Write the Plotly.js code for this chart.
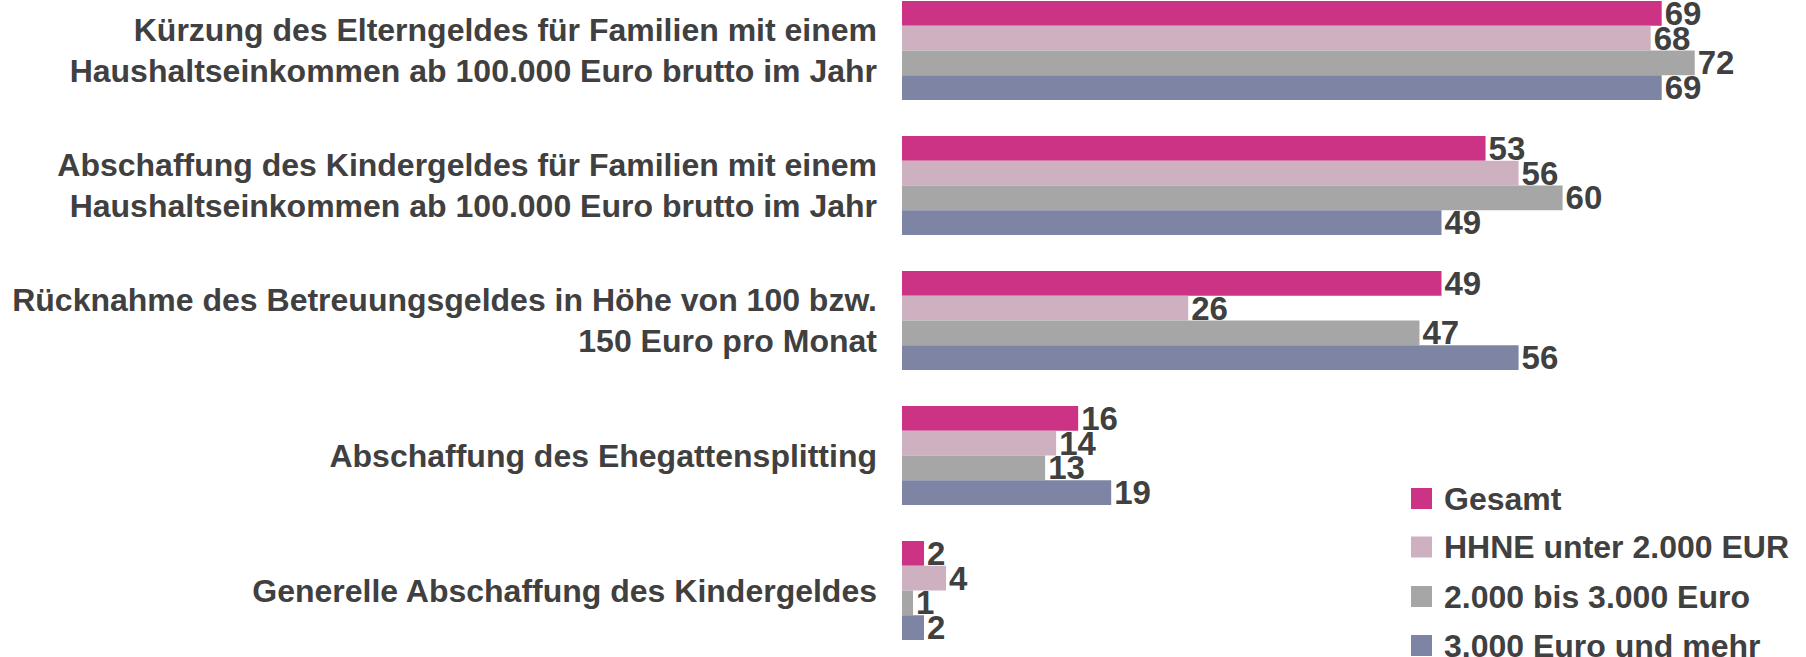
<!DOCTYPE html>
<html>
<head>
<meta charset="utf-8">
<script src="https://cdn.plot.ly/plotly-3.0.1.min.js"></script>
<style>
  html, body { margin: 0; padding: 0; background: #ffffff; }
  #chart { width: 1806px; height: 657px; }
</style>
</head>
<body>
<div id="chart"></div>
<script>
// ---- data ----
const categories = [
  "Kürzung des Elterngeldes für Familien mit einem<br>Haushaltseinkommen ab 100.000 Euro brutto im Jahr",
  "Abschaffung des Kindergeldes für Familien mit einem<br>Haushaltseinkommen ab 100.000 Euro brutto im Jahr",
  "Rücknahme des Betreuungsgeldes in Höhe von 100 bzw.<br>150 Euro pro Monat",
  "Abschaffung des Ehegattensplitting",
  "Generelle Abschaffung des Kindergeldes"
];
const seriesNames = ["Gesamt", "HHNE unter 2.000 EUR", "2.000 bis 3.000 Euro", "3.000 Euro und mehr"];
const gesamt    = [69, 53, 49, 16, 2];
const unter2000 = [68, 56, 26, 14, 4];
const bis3000   = [72, 60, 47, 13, 1];
const ab3000    = [69, 49, 56, 19, 2];
const seriesValues = [gesamt, unter2000, bis3000, ab3000];

// ---- style ----
const colors = ["#CC3385", "#CEB1C1", "#A6A6A6", "#7E84A3"];
const textColor = "#404040";
const FONT = "Liberation Sans, Arial, Helvetica, sans-serif";

const W = 1806, H = 657;
const L = 902, R = 0, T = 0, B = 0;
const plotW = W - L - R, plotH = H - T - B;

const traces = seriesValues.map((vals, i) => ({
  type: "bar",
  orientation: "h",
  name: seriesNames[i],
  y: categories,
  x: vals,
  marker: { color: colors[i], line: { width: 0 } },
  texttemplate: "%{x}",
  textposition: "outside",
  constraintext: "none",
  cliponaxis: false,
  textfont: { family: FONT, size: 33, color: textColor, weight: "bold" },
  hoverinfo: "skip",
  showlegend: false
}));

// manual legend (large square swatches like the reference)
const legendCentersPx = [498.5, 547, 596.5, 645.5];
const swatch = 21;
const swatchLeftPx = 1411;
const textLeftPx = 1442;
const pxX = p => (p - L) / plotW;
const pxY = p => 1 - (p - T) / plotH;

const shapes = seriesNames.map((n, i) => ({
  type: "rect", xref: "paper", yref: "paper",
  x0: pxX(swatchLeftPx), x1: pxX(swatchLeftPx + swatch),
  y0: pxY(legendCentersPx[i] + swatch / 2), y1: pxY(legendCentersPx[i] - swatch / 2),
  fillcolor: colors[i], line: { width: 0 }
}));
const annotations = seriesNames.map((n, i) => ({
  text: n, xref: "paper", yref: "paper",
  x: pxX(textLeftPx), y: pxY(legendCentersPx[i]),
  xanchor: "left", yanchor: "middle", showarrow: false,
  font: { family: FONT, size: 32, color: textColor, weight: "bold" }
}));

const layout = {
  width: W, height: H,
  margin: { l: L, r: R, t: T, b: B, pad: 0 },
  paper_bgcolor: "#ffffff",
  plot_bgcolor: "#ffffff",
  barmode: "group",
  bargap: 0.2667,
  bargroupgap: 0,
  showlegend: false,
  xaxis: {
    range: [0, plotW / 11.01],
    showgrid: false, zeroline: false, showline: false,
    showticklabels: false, ticks: "", fixedrange: true
  },
  yaxis: {
    type: "category",
    range: [(plotH - 50.5) / 135, -50.5 / 135],
    showgrid: false, zeroline: false, showline: false,
    ticks: "", automargin: false,
    ticklabelstandoff: 24,
    tickfont: { family: FONT, size: 32, color: textColor, weight: "bold" },
    fixedrange: true
  },
  shapes: shapes,
  annotations: annotations,
  font: { family: FONT, color: textColor }
};

Plotly.newPlot("chart", traces, layout, { displayModeBar: false, staticPlot: true });
</script>
</body>
</html>
